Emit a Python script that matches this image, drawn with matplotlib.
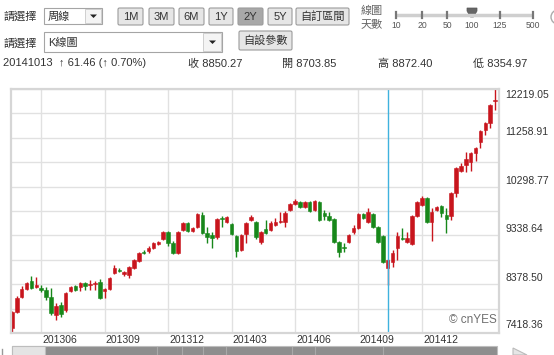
import numpy as np
import pandas as pd
import matplotlib
matplotlib.use('Agg')
import matplotlib.pyplot as plt
from matplotlib.patches import FancyBboxPatch, Rectangle, Polygon, Circle
from matplotlib.transforms import blended_transform_factory

plt.rcParams['font.family'] = ['Liberation Sans', 'Noto Sans CJK TC', 'DejaVu Sans']

# weekly K bars, 100 weeks (2013-04-22 .. 2015-03-16)
opens = [7517, 7832, 8127, 8285, 8442, 8324, 8304, 8265, 8127, 7773,
         7970, 7871, 8245, 8344, 8324, 8403, 8363, 8383, 8422, 8245,
         8285, 8599, 8658, 8580, 8560, 8698, 8835, 9012, 9032, 9091,
         9170, 9268, 9406, 9189, 8993, 9445, 9583, 9425, 9504, 9740,
         9386, 9347, 9307, 9681, 9602, 9563, 9327, 9052, 9366, 9642,
         9602, 9209, 9465, 9445, 9543, 9602, 9602, 9839, 9956, 9996,
         9897, 9996, 9839, 9996, 9779, 9720, 9661, 9209, 9111, 9209,
         9406, 9484, 9760, 9602, 9760, 9504, 9327, 8703.85, 8816, 9091,
         9288, 9209, 9170, 9720, 9937, 10074, 9602, 9839, 9917, 9740,
         9720, 10173, 10606, 10724, 10783, 10960, 11176, 11412, 11550, 11983]
highs = [7852, 8147, 8344, 8422, 8540, 8521, 8363, 8324, 8304, 8009,
         8029, 8226, 8344, 8363, 8422, 8422, 8462, 8442, 8481, 8304,
         8521, 8757, 8698, 8639, 8737, 8875, 9012, 9052, 9130, 9209,
         9229, 9425, 9425, 9229, 9425, 9602, 9602, 9504, 9779, 9799,
         9504, 9406, 9681, 9720, 9720, 9583, 9347, 9366, 9602, 9740,
         9622, 9425, 9642, 9622, 9681, 9799, 9819, 9976, 10055, 10015,
         10015, 10015, 10035, 10015, 9839, 9799, 9681, 9229, 9189, 9366,
         9543, 9779, 9779, 9878, 9779, 9524, 9347, 8872.40, 9052, 9406,
         9484, 9406, 9740, 10015, 10114, 10094, 9878, 9917, 9937, 9878,
         10192, 10684, 10763, 10979, 10979, 11078, 11412, 11570, 11924, 12230]
lows = [7438, 7812, 8108, 8265, 8285, 8304, 8226, 8068, 7773, 7675,
        7734, 7832, 8226, 8245, 8245, 8265, 8265, 8265, 8088, 8108,
        8265, 8580, 8619, 8540, 8501, 8678, 8816, 8973, 8993, 9071,
        9150, 9248, 9130, 8973, 8973, 9425, 9406, 9406, 9484, 9366,
        9189, 9091, 9268, 9504, 9583, 9347, 8914, 9032, 9189, 9622,
        9268, 9170, 9366, 9425, 9524, 9583, 9504, 9819, 9937, 9878,
        9878, 9799, 9819, 9622, 9642, 9622, 9189, 8914, 9012, 9189,
        9366, 9465, 9661, 9583, 9484, 9189, 8796, 8354.97, 8717, 8855,
        9248, 9189, 9150, 9701, 9917, 9583, 9229, 9819, 9701, 9386,
        9642, 10094, 10586, 10586, 10606, 10802, 11058, 11314, 11452, 11806]
closes = [7832, 8108, 8285, 8403, 8304, 8363, 8265, 8127, 7812, 7950,
          7793, 8206, 8324, 8265, 8403, 8344, 8383, 8403, 8108, 8285,
          8501, 8698, 8639, 8619, 8717, 8855, 8993, 8993, 9091, 9189,
          9209, 9406, 9189, 8993, 9406, 9583, 9425, 9484, 9760, 9386,
          9307, 9288, 9661, 9661, 9701, 9366, 9032, 9347, 9583, 9701,
          9307, 9406, 9386, 9583, 9602, 9622, 9779, 9956, 10015, 9897,
          9996, 9819, 10015, 9642, 9720, 9642, 9209, 9012, 9091, 9347,
          9484, 9760, 9681, 9799, 9504, 9209, 8816, 8850.27, 8993, 9327,
          9268, 9288, 9720, 9996, 10074, 9602, 9799, 9897, 9779, 9661,
          10173, 10665, 10704, 10842, 10960, 11058, 11393, 11550, 11904, 12003]
weeks = pd.date_range('2013-04-22', periods=100, freq='7D')

price_labels = [12219.05, 11258.91, 10298.77, 9338.64, 8378.50, 7418.36]
month_labels = ['201306', '201309', '201312', '201403', '201406', '201409', '201412']
sel_day = '20141013'
sel_change = '\u2191 61.46 (\u2191 0.70%)'
sel_info = [('收', 8850.27), ('開', 8703.85), ('高', 8872.40), ('低', 8354.97)]
range_buttons = ['1M', '3M', '6M', '1Y', '2Y', '5Y', '自訂區間']
days_opts = ['10', '20', '50', '100', '125', '500']

RED = '#c8151d'
GREEN = '#17871a'
W, H = 554, 355

fig = plt.figure(figsize=(W / 100, H / 100), dpi=100)
ui = fig.add_axes([0, 0, 1, 1], zorder=0)
ui.set_xlim(0, W)
ui.set_ylim(H, 0)
ui.axis('off')

ax = fig.add_axes([11 / W, (H - 333) / H, 488 / W, 244 / H], zorder=1)

o = np.array(opens, float)
h = np.array(highs, float)
l = np.array(lows, float)
c = np.array(closes, float)
x = np.arange(len(c))
cols = np.where(c >= o, RED, GREEN)

lo, hi = price_labels[-1], price_labels[0]
ax.set_xlim(-0.2, 99.8)
ax.set_ylim(lo, hi)

tick_idx = [int(np.where(weeks.strftime('%Y%m') == m)[0][0]) for m in month_labels]
ax.set_xticks(tick_idx)
ax.set_yticks(np.linspace(lo, hi, 11))
ax.grid(True, color='#e1e1e1', lw=1)
ax.set_axisbelow(True)
ax.tick_params(length=0, labelbottom=False, labelleft=False)
for s in ax.spines.values():
    s.set_color('#d6d6d6')
    s.set_linewidth(1.6)

ax.vlines(x, l, h, colors=cols, lw=1)
ax.bar(x, np.maximum(np.abs(c - o), 14), width=0.72, bottom=np.minimum(o, c),
       color=cols, edgecolor=cols, lw=0.4)

sel = list(weeks.strftime('%Y%m%d')).index(sel_day)
ax.axvline(sel, color='#3fb2de', lw=1)

trans = blended_transform_factory(ax.transAxes, ax.transData)
for i, v in enumerate(price_labels):
    dy = 4.3
    if i == 0:
        dy = -4.5
    elif i == len(price_labels) - 1:
        dy = 5.8
    ax.annotate('%.2f' % v, (1, v), xycoords=trans, xytext=(4.5, dy),
                textcoords='offset points', ha='left', va='center',
                fontsize=7.5, color='#333333', annotation_clip=False)

transx = blended_transform_factory(ax.transData, ax.transAxes)
for t, m in zip(tick_idx, month_labels):
    ax.annotate(m, (t, 0), xycoords=transx, xytext=(0.8, -5.2),
                textcoords='offset points', ha='left', va='center',
                fontsize=7.5, color='#333333', annotation_clip=False)

ax.text(0.996, 0.03, '\u00a9 cnYES', transform=ax.transAxes, ha='right',
        va='bottom', fontsize=8.5, color='#6f6f6f')

# ---- controls above the chart ----
txt = dict(fontsize=8, color='#333333', va='center')


def button(x0, x1, y0, y1, label, pressed=False):
    ui.add_patch(FancyBboxPatch((x0, y0), x1 - x0, y1 - y0,
                                boxstyle='round,pad=0,rounding_size=1.5',
                                fc='#a8a8a8' if pressed else '#e6e6e6',
                                ec='#9c9c9c', lw=0.8))
    ui.text((x0 + x1) / 2, (y0 + y1) / 2 + 0.5, label, ha='center', **txt)


def combo(x0, x1, y0, y1, sep, label):
    ui.add_patch(Rectangle((x0, y0), x1 - x0, y1 - y0, fc='white', ec='#a5a5a5', lw=0.8))
    ui.add_patch(Rectangle((sep, y0 + 1), x1 - sep - 1, y1 - y0 - 2, fc='#f4f4f4', ec='#c8c8c8', lw=0.6))
    cx, cy = (sep + x1) / 2, (y0 + y1) / 2
    ui.add_patch(Polygon([(cx - 3.5, cy - 1.5), (cx + 3.5, cy - 1.5), (cx, cy + 2)], fc='#222222', ec='none'))
    ui.text(x0 + 4, cy + 0.5, label, ha='left', **txt)


ui.text(3, 16.5, '請選擇', ha='left', **txt)
combo(44, 102, 8, 24, 85, '周線')
bx = [(118, 143), (149, 174), (179, 204), (209, 233), (238, 263), (268, 292), (296, 349)]
for (x0, x1), lab in zip(bx, range_buttons):
    button(x0, x1, 8, 25, lab, pressed=(lab == '2Y'))

ui.text(3, 43, '請選擇', ha='left', **txt)
combo(44, 222, 32, 52, 203, 'K線圖')
button(239, 292, 31, 50, '自設參數')

# line-days slider
ui.text(361, 11, '線圖', ha='left', fontsize=8, color='#666666', va='center')
ui.text(361, 24, '天數', ha='left', fontsize=8, color='#666666', va='center')
tx = [396, 422, 447, 472, 500, 533]
ui.plot([396, 533], [14.5, 14.5], color='#cfcfcf', lw=2.5, solid_capstyle='butt')
for xt, lab in zip(tx, days_opts):
    if lab == '100':
        ui.add_patch(Polygon([(467, 8), (477, 8), (477, 11), (473.5, 17), (470.5, 17), (467, 11)],
                             fc='#666666', ec='#555555', lw=0.5))
    else:
        ui.plot([xt, xt], [11.5, 17.5], color='#777777', lw=1.6)
    ui.text(xt, 25.5, lab, ha='center', va='center', fontsize=6.2, color='#555555')
ui.add_patch(Circle((558, 17), 7, fc='white', ec='#aaaaaa', lw=1))

# selected bar info line
ui.text(3, 63.5, sel_day + '  ' + sel_change, ha='left', **txt)
for (name, val), xp in zip(sel_info, [188, 282, 378, 473]):
    ui.text(xp, 63.5, '%s %.2f' % (name, val), ha='left', **txt)

# bottom scroll bar
ui.add_patch(Rectangle((12, 346), 485, 10, fc='#8e8e8e', ec='#bdbdbd', lw=0.8))
ui.add_patch(Rectangle((12, 346), 33, 10, fc='#e4e4e4', ec='#bdbdbd', lw=0.8))
for xv in [157, 182, 203, 226, 292, 315, 383]:
    ui.plot([xv, xv], [347, 355], color='#a9a9a9', lw=0.8)
ui.add_patch(Polygon([(513, 348), (527, 355), (513, 355)], fc='#e6e6e6', ec='#bbbbbb', lw=0.8))
ui.plot([2, 2], [349, 355], color='#999999', lw=1)

fig.savefig('out.png', dpi=100)
